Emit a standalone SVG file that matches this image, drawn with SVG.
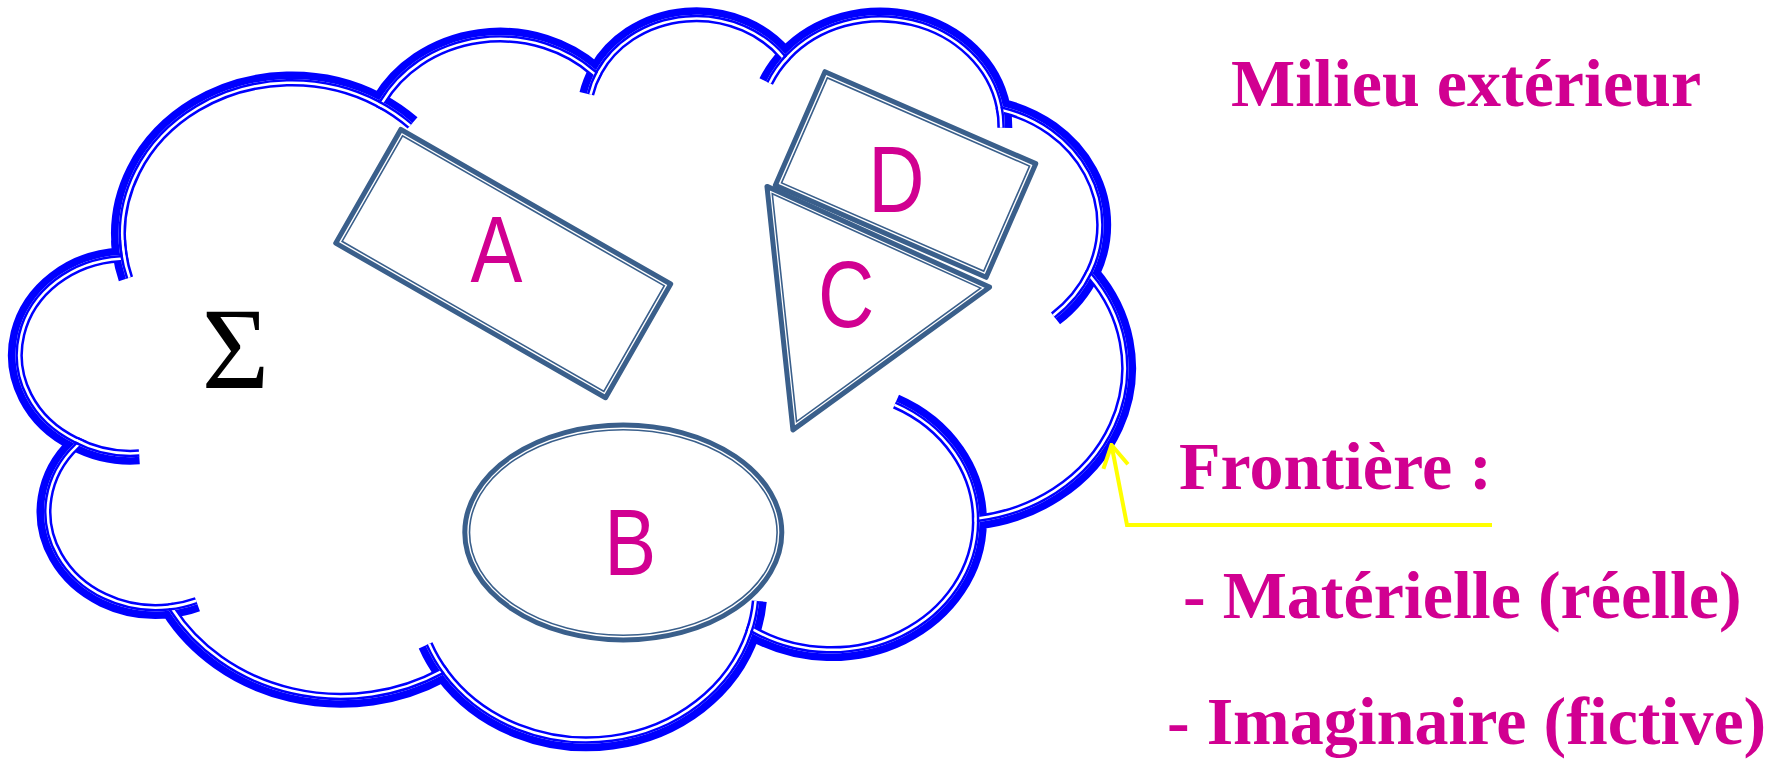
<svg xmlns="http://www.w3.org/2000/svg" xmlns:xlink="http://www.w3.org/1999/xlink" width="1791" height="760" viewBox="0 0 1791 760">
<style>
.cl{fill:none;stroke:#0000FF;stroke-width:15;stroke-linejoin:miter}
.clw{fill:none;stroke:#FFFFFF;stroke-width:10}
.clt{fill:none;stroke:#0000FF;stroke-width:5}
.sh{fill:none;stroke:#3A5F8B;stroke-width:5;stroke-linejoin:round}
.shi{fill:none;stroke:#3A5F8B;stroke-width:1.6}
.lbl{font-family:"Liberation Sans",Arial,sans-serif;font-size:95px;fill:#D10091;text-anchor:middle}
.txt{font-family:"Liberation Serif","Times New Roman",serif;font-weight:bold;font-size:68px;fill:#D10091}
.arrow{fill:none;stroke:#FFFF00;stroke-width:4}
</style>
<defs>
<path id="cloudPath" d="M 120.1 254.9 A 173.19 155.02 0 0 1 379.3 100.3 A 136.77 122.58 0 0 1 596.0 70.3 A 111.94 100.28 0 0 1 785.3 54.3 A 124.56 111.24 0 0 1 1002.9 106.5 A 136.77 122.68 0 0 1 1092.6 273.2 A 173.75 155.52 0 0 1 979.4 521.9 A 148.36 132.70 0 0 1 752.4 633.4 A 173.16 155.44 0 0 1 442.8 674.8 A 197.99 177.84 0 0 1 169.0 610.8 A 111.82 99.82 0 0 1 74.3 443.4 A 111.43 100.28 0 0 1 120.1 254.9 Z"/>
<path id="d1" d="M 139.30 456.84 A 111.43 100.28 0 0 1 74.3 443.4"/>
<path id="d2" d="M 197.44 604.31 A 111.82 99.82 0 0 1 169.0 610.8"/>
<path id="d3" d="M 442.8 674.8 A 173.16 155.44 0 0 1 425.62 645.38"/>
<path id="d4" d="M 759.27 601.18 A 173.16 155.44 0 0 1 752.4 633.4"/>
<path id="d5" d="M 895.99 401.53 A 148.36 132.70 0 0 1 979.4 521.9"/>
<path id="d6" d="M 1092.6 273.2 A 136.77 122.68 0 0 1 1055.49 318.39"/>
<path id="d7" d="M 1002.9 106.5 A 124.56 111.24 0 0 1 1004.82 127.84"/>
<path id="d8" d="M 766.22 81.54 A 124.56 111.24 0 0 1 785.3 54.3"/>
<path id="d9" d="M 586.83 93.76 A 111.94 100.28 0 0 1 596.0 70.3"/>
<path id="d10" d="M 379.3 100.3 A 173.19 155.02 0 0 1 412.58 122.96"/>
<path id="d11" d="M 125.95 278.83 A 173.19 155.02 0 0 1 118.68 240.2"/>
<clipPath id="cIn"><path d="M 120.1 254.9 A 173.19 155.02 0 0 1 379.3 100.3 A 136.77 122.58 0 0 1 596.0 70.3 A 111.94 100.28 0 0 1 785.3 54.3 A 124.56 111.24 0 0 1 1002.9 106.5 A 136.77 122.68 0 0 1 1092.6 273.2 A 173.75 155.52 0 0 1 979.4 521.9 A 148.36 132.70 0 0 1 752.4 633.4 A 173.16 155.44 0 0 1 442.8 674.8 A 197.99 177.84 0 0 1 169.0 610.8 A 111.82 99.82 0 0 1 74.3 443.4 A 111.43 100.28 0 0 1 120.1 254.9 Z"/></clipPath>
<clipPath id="L1"><ellipse cx="291.73" cy="234.0" rx="173.19" ry="155.02"/></clipPath>
<clipPath id="L3"><ellipse cx="696.21" cy="115.09" rx="111.94" ry="100.28"/></clipPath>
<clipPath id="L4"><ellipse cx="880.27" cy="126.25" rx="124.56" ry="111.24"/></clipPath>
<clipPath id="L5"><ellipse cx="966.92" cy="224.90" rx="136.77" ry="122.68"/></clipPath>
<clipPath id="L7"><ellipse cx="831.0" cy="520.82" rx="148.36" ry="132.70"/></clipPath>
<clipPath id="L8"><ellipse cx="586.70" cy="588.34" rx="173.16" ry="155.44"/></clipPath>
<clipPath id="L10"><ellipse cx="155.96" cy="511.61" rx="111.82" ry="99.82"/></clipPath>
<clipPath id="L11"><ellipse cx="130.65" cy="356.86" rx="111.43" ry="100.28"/></clipPath>
<marker id="arr" markerUnits="userSpaceOnUse" viewBox="-28 -15 30 30" markerWidth="30" markerHeight="30" refX="0" refY="0" orient="auto">
<path d="M -22 -12.5 L 0 0 L -22 12.5" fill="none" stroke="#FFFF00" stroke-width="4"/>
</marker>
</defs>
<rect x="0" y="0" width="1791" height="760" fill="#FFFFFF"/>

<g id="shapeA">
<g transform="translate(503.2,263.6) rotate(29.8)">
<rect class="sh" x="-155.5" y="-65.5" width="311" height="131"/>
<rect class="shi" x="-150.8" y="-60.8" width="301.6" height="121.6"/>
</g>
<text class="lbl" transform="translate(496.5,281.5) scale(0.82,1)">A</text>
</g>

<g id="shapeD">
<g transform="translate(905.55,174.5) rotate(23.57)">
<rect class="sh" x="-115" y="-62" width="230" height="124"/>
<rect class="shi" x="-110.3" y="-57.3" width="220.6" height="114.6"/>
</g>
<text class="lbl" transform="translate(896.3,211.5) scale(0.82,1)">D</text>
</g>

<g id="shapeC">
<polygon class="sh" points="766.96,186.38 989.54,287.15 792.93,429.89"/>
<polygon class="shi" points="772.28,193.73 980.61,288.06 796.58,421.66"/>
<text class="lbl" transform="translate(846.2,327) scale(0.82,1)">C</text>
</g>

<g id="shapeB">
<ellipse class="sh" cx="623.3" cy="532.5" rx="158.5" ry="107.5"/>
<ellipse class="shi" cx="623.3" cy="532.5" rx="153.8" ry="102.8"/>
<text class="lbl" transform="translate(630.3,575) scale(0.82,1)">B</text>
</g>

<g id="cloud">
<use xlink:href="#cloudPath" class="cl"/>
<use xlink:href="#d1" class="cl"/>
<use xlink:href="#d2" class="cl"/>
<use xlink:href="#d3" class="cl"/>
<use xlink:href="#d4" class="cl"/>
<use xlink:href="#d5" class="cl"/>
<use xlink:href="#d6" class="cl"/>
<use xlink:href="#d7" class="cl"/>
<use xlink:href="#d8" class="cl"/>
<use xlink:href="#d9" class="cl"/>
<use xlink:href="#d10" class="cl"/>
<use xlink:href="#d11" class="cl"/>
<use xlink:href="#cloudPath" class="clw" clip-path="url(#cIn)"/>
<use xlink:href="#d1" class="clw" clip-path="url(#L11)"/>
<use xlink:href="#d2" class="clw" clip-path="url(#L10)"/>
<use xlink:href="#d3" class="clw" clip-path="url(#L8)"/>
<use xlink:href="#d4" class="clw" clip-path="url(#L8)"/>
<use xlink:href="#d5" class="clw" clip-path="url(#L7)"/>
<use xlink:href="#d6" class="clw" clip-path="url(#L5)"/>
<use xlink:href="#d7" class="clw" clip-path="url(#L4)"/>
<use xlink:href="#d8" class="clw" clip-path="url(#L4)"/>
<use xlink:href="#d9" class="clw" clip-path="url(#L3)"/>
<use xlink:href="#d10" class="clw" clip-path="url(#L1)"/>
<use xlink:href="#d11" class="clw" clip-path="url(#L1)"/>
<use xlink:href="#cloudPath" class="clt" clip-path="url(#cIn)"/>
<use xlink:href="#d1" class="clt" clip-path="url(#L11)"/>
<use xlink:href="#d2" class="clt" clip-path="url(#L10)"/>
<use xlink:href="#d3" class="clt" clip-path="url(#L8)"/>
<use xlink:href="#d4" class="clt" clip-path="url(#L8)"/>
<use xlink:href="#d5" class="clt" clip-path="url(#L7)"/>
<use xlink:href="#d6" class="clt" clip-path="url(#L5)"/>
<use xlink:href="#d7" class="clt" clip-path="url(#L4)"/>
<use xlink:href="#d8" class="clt" clip-path="url(#L4)"/>
<use xlink:href="#d9" class="clt" clip-path="url(#L3)"/>
<use xlink:href="#d10" class="clt" clip-path="url(#L1)"/>
<use xlink:href="#d11" class="clt" clip-path="url(#L1)"/>
<text x="235.4" y="388" font-family="'Liberation Serif','Times New Roman',serif" font-size="116" fill="#000000" text-anchor="middle">Σ</text>
</g>

<g id="connectors">
<path class="arrow" d="M 1492 525 L 1127 525 L 1111.5 445" marker-end="url(#arr)"/>
</g>

<g id="legend">
<text class="txt" x="1231" y="106">Milieu extérieur</text>
<text class="txt" x="1179" y="489">Frontière :</text>
<text class="txt" x="1183" y="618">- Matérielle (réelle)</text>
<text class="txt" x="1167" y="744">- Imaginaire (fictive)</text>
</g>
</svg>
